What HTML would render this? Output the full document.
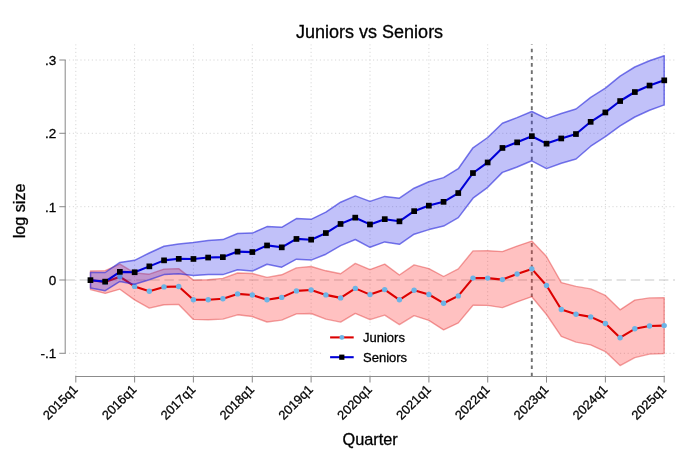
<!DOCTYPE html>
<html><head><meta charset="utf-8"><title>Juniors vs Seniors</title>
<style>
html,body{margin:0;padding:0;background:#fff;}
body{width:700px;height:453px;overflow:hidden;font-family:"Liberation Sans",sans-serif;}
svg{display:block;}
text{font-family:"Liberation Sans",sans-serif;fill:#000;stroke:#000;stroke-width:0.3px;}
</style></head><body>
<svg width="700" height="453" viewBox="0 0 700 453">
<rect width="700" height="453" fill="#fff"/>

<g stroke="#d8d8d8" stroke-width="1" stroke-dasharray="1.2 2.6" fill="none">
<line x1="75.8" y1="376" x2="75.8" y2="44.4"/>
<line x1="134.6" y1="376" x2="134.6" y2="44.4"/>
<line x1="193.4" y1="376" x2="193.4" y2="44.4"/>
<line x1="252.3" y1="376" x2="252.3" y2="44.4"/>
<line x1="311.1" y1="376" x2="311.1" y2="44.4"/>
<line x1="370.0" y1="376" x2="370.0" y2="44.4"/>
<line x1="428.9" y1="376" x2="428.9" y2="44.4"/>
<line x1="487.7" y1="376" x2="487.7" y2="44.4"/>
<line x1="546.5" y1="376" x2="546.5" y2="44.4"/>
<line x1="605.4" y1="376" x2="605.4" y2="44.4"/>
<line x1="664.2" y1="376" x2="664.2" y2="44.4"/>
<line x1="69" y1="353.3" x2="675" y2="353.3"/>
<line x1="69" y1="206.7" x2="675" y2="206.7"/>
<line x1="69" y1="133.3" x2="675" y2="133.3"/>
<line x1="69" y1="60.0" x2="675" y2="60.0"/>
</g>
<line x1="65.5" y1="280.0" x2="675" y2="280.0" stroke="#b4b4b4" stroke-width="0.75" stroke-dasharray="9.4 4.73"/>
<line x1="531.8" y1="376.3" x2="531.8" y2="44.4" stroke="#707070" stroke-width="1.9" stroke-dasharray="3.6 3.6"/>
<polygon points="90.5,271.0 105.2,270.6 119.9,264.2 134.6,272.9 149.3,274.2 164.0,269.1 178.7,268.6 193.4,280.1 208.2,279.7 222.9,278.4 237.6,273.0 252.3,273.5 267.0,277.4 281.7,274.8 296.4,267.9 311.1,266.5 325.9,270.8 340.6,273.8 355.3,263.4 370.0,269.6 384.7,264.1 399.4,275.0 414.1,264.9 428.9,268.6 443.6,276.5 458.3,268.9 473.0,250.9 487.7,250.8 502.4,251.6 517.1,246.1 531.8,241.1 546.5,256.5 561.3,282.6 576.0,286.4 590.7,288.9 605.4,295.4 620.1,309.8 634.8,300.1 649.5,297.9 664.2,297.7 664.2,353.5 649.5,354.1 634.8,357.6 620.1,365.6 605.4,351.6 590.7,344.9 576.0,342.1 561.3,336.4 546.5,314.5 531.8,296.7 517.1,301.9 502.4,307.6 487.7,305.4 473.0,305.2 458.3,322.9 443.6,329.9 428.9,320.4 414.1,315.6 399.4,324.6 384.7,315.1 370.0,319.6 355.3,313.4 340.6,322.1 325.9,319.1 311.1,313.5 296.4,313.9 281.7,320.1 267.0,322.0 252.3,316.5 237.6,314.8 222.9,319.1 208.2,319.7 193.4,319.4 178.7,304.4 164.0,304.8 149.3,308.1 134.6,299.9 119.9,289.2 105.2,293.4 90.5,289.6" fill="rgba(255,40,40,0.29)" stroke="rgba(225,50,50,0.45)" stroke-width="1.4" stroke-linejoin="round"/>
<polyline points="90.5,280.3 105.2,282.0 119.9,276.7 134.6,286.4 149.3,291.2 164.0,286.9 178.7,286.5 193.4,299.8 208.2,299.7 222.9,298.7 237.6,293.9 252.3,295.0 267.0,299.7 281.7,297.4 296.4,290.9 311.1,290.0 325.9,294.9 340.6,297.9 355.3,288.4 370.0,294.6 384.7,289.6 399.4,299.8 414.1,290.3 428.9,294.5 443.6,303.2 458.3,295.9 473.0,278.1 487.7,278.1 502.4,279.6 517.1,274.0 531.8,268.9 546.5,285.5 561.3,309.5 576.0,314.2 590.7,316.9 605.4,323.5 620.1,337.7 634.8,328.8 649.5,326.0 664.2,325.6" fill="none" stroke="#dc0000" stroke-width="2.1" stroke-linejoin="round"/>
<circle cx="90.5" cy="280.3" r="2.7" fill="#6cb4e6"/>
<circle cx="105.2" cy="282.0" r="2.7" fill="#6cb4e6"/>
<circle cx="119.9" cy="276.7" r="2.7" fill="#6cb4e6"/>
<circle cx="134.6" cy="286.4" r="2.7" fill="#6cb4e6"/>
<circle cx="149.3" cy="291.2" r="2.7" fill="#6cb4e6"/>
<circle cx="164.0" cy="286.9" r="2.7" fill="#6cb4e6"/>
<circle cx="178.7" cy="286.5" r="2.7" fill="#6cb4e6"/>
<circle cx="193.4" cy="299.8" r="2.7" fill="#6cb4e6"/>
<circle cx="208.2" cy="299.7" r="2.7" fill="#6cb4e6"/>
<circle cx="222.9" cy="298.7" r="2.7" fill="#6cb4e6"/>
<circle cx="237.6" cy="293.9" r="2.7" fill="#6cb4e6"/>
<circle cx="252.3" cy="295.0" r="2.7" fill="#6cb4e6"/>
<circle cx="267.0" cy="299.7" r="2.7" fill="#6cb4e6"/>
<circle cx="281.7" cy="297.4" r="2.7" fill="#6cb4e6"/>
<circle cx="296.4" cy="290.9" r="2.7" fill="#6cb4e6"/>
<circle cx="311.1" cy="290.0" r="2.7" fill="#6cb4e6"/>
<circle cx="325.9" cy="294.9" r="2.7" fill="#6cb4e6"/>
<circle cx="340.6" cy="297.9" r="2.7" fill="#6cb4e6"/>
<circle cx="355.3" cy="288.4" r="2.7" fill="#6cb4e6"/>
<circle cx="370.0" cy="294.6" r="2.7" fill="#6cb4e6"/>
<circle cx="384.7" cy="289.6" r="2.7" fill="#6cb4e6"/>
<circle cx="399.4" cy="299.8" r="2.7" fill="#6cb4e6"/>
<circle cx="414.1" cy="290.3" r="2.7" fill="#6cb4e6"/>
<circle cx="428.9" cy="294.5" r="2.7" fill="#6cb4e6"/>
<circle cx="443.6" cy="303.2" r="2.7" fill="#6cb4e6"/>
<circle cx="458.3" cy="295.9" r="2.7" fill="#6cb4e6"/>
<circle cx="473.0" cy="278.1" r="2.7" fill="#6cb4e6"/>
<circle cx="487.7" cy="278.1" r="2.7" fill="#6cb4e6"/>
<circle cx="502.4" cy="279.6" r="2.7" fill="#6cb4e6"/>
<circle cx="517.1" cy="274.0" r="2.7" fill="#6cb4e6"/>
<circle cx="531.8" cy="268.9" r="2.7" fill="#6cb4e6"/>
<circle cx="546.5" cy="285.5" r="2.7" fill="#6cb4e6"/>
<circle cx="561.3" cy="309.5" r="2.7" fill="#6cb4e6"/>
<circle cx="576.0" cy="314.2" r="2.7" fill="#6cb4e6"/>
<circle cx="590.7" cy="316.9" r="2.7" fill="#6cb4e6"/>
<circle cx="605.4" cy="323.5" r="2.7" fill="#6cb4e6"/>
<circle cx="620.1" cy="337.7" r="2.7" fill="#6cb4e6"/>
<circle cx="634.8" cy="328.8" r="2.7" fill="#6cb4e6"/>
<circle cx="649.5" cy="326.0" r="2.7" fill="#6cb4e6"/>
<circle cx="664.2" cy="325.6" r="2.7" fill="#6cb4e6"/>
<polygon points="90.5,272.4 105.2,272.5 119.9,262.4 134.6,260.3 149.3,253.0 164.0,246.2 178.7,243.9 193.4,242.4 208.2,240.5 222.9,239.6 237.6,233.5 252.3,233.1 267.0,226.6 281.7,227.3 296.4,218.6 311.1,219.3 325.9,212.1 340.6,202.2 355.3,195.9 370.0,201.4 384.7,196.4 399.4,198.2 414.1,188.2 428.9,181.7 443.6,177.6 458.3,168.7 473.0,147.8 487.7,137.5 502.4,123.3 517.1,117.6 531.8,111.5 546.5,118.6 561.3,113.5 576.0,109.0 590.7,97.3 605.4,88.2 620.1,76.1 634.8,67.0 649.5,60.8 664.2,55.7 664.2,104.9 649.5,110.2 634.8,117.0 620.1,125.9 605.4,136.6 590.7,146.2 576.0,159.0 561.3,163.2 546.5,168.6 531.8,160.8 517.1,167.0 502.4,172.4 487.7,187.3 473.0,198.2 458.3,217.6 443.6,226.1 428.9,229.6 414.1,234.2 399.4,244.3 384.7,241.9 370.0,247.3 355.3,239.5 340.6,245.6 325.9,254.2 311.1,260.1 296.4,259.2 281.7,267.2 267.0,264.2 252.3,271.1 237.6,269.7 222.9,274.6 208.2,274.5 193.4,275.6 178.7,273.7 164.0,274.6 149.3,279.8 134.6,284.3 119.9,281.4 105.2,290.7 90.5,287.9" fill="rgba(45,45,235,0.295)" stroke="rgba(40,40,220,0.62)" stroke-width="1.5" stroke-linejoin="round"/>
<polyline points="90.5,280.2 105.2,281.6 119.9,271.9 134.6,272.3 149.3,266.4 164.0,260.4 178.7,258.8 193.4,259.0 208.2,257.5 222.9,257.1 237.6,251.6 252.3,252.1 267.0,245.4 281.7,247.3 296.4,238.9 311.1,239.7 325.9,233.1 340.6,223.9 355.3,217.7 370.0,224.4 384.7,219.2 399.4,221.3 414.1,211.2 428.9,205.6 443.6,201.8 458.3,193.1 473.0,173.0 487.7,162.4 502.4,147.9 517.1,142.3 531.8,136.2 546.5,143.6 561.3,138.4 576.0,134.0 590.7,121.8 605.4,112.4 620.1,101.0 634.8,92.0 649.5,85.5 664.2,80.3" fill="none" stroke="#0000d8" stroke-width="2.1" stroke-linejoin="round"/>
<rect x="87.6" y="277.3" width="5.7" height="5.7" fill="#000"/>
<rect x="102.3" y="278.8" width="5.7" height="5.7" fill="#000"/>
<rect x="117.0" y="269.0" width="5.7" height="5.7" fill="#000"/>
<rect x="131.8" y="269.4" width="5.7" height="5.7" fill="#000"/>
<rect x="146.5" y="263.5" width="5.7" height="5.7" fill="#000"/>
<rect x="161.2" y="257.5" width="5.7" height="5.7" fill="#000"/>
<rect x="175.9" y="256.0" width="5.7" height="5.7" fill="#000"/>
<rect x="190.6" y="256.1" width="5.7" height="5.7" fill="#000"/>
<rect x="205.3" y="254.7" width="5.7" height="5.7" fill="#000"/>
<rect x="220.0" y="254.3" width="5.7" height="5.7" fill="#000"/>
<rect x="234.7" y="248.8" width="5.7" height="5.7" fill="#000"/>
<rect x="249.5" y="249.2" width="5.7" height="5.7" fill="#000"/>
<rect x="264.2" y="242.6" width="5.7" height="5.7" fill="#000"/>
<rect x="278.9" y="244.5" width="5.7" height="5.7" fill="#000"/>
<rect x="293.6" y="236.1" width="5.7" height="5.7" fill="#000"/>
<rect x="308.3" y="236.8" width="5.7" height="5.7" fill="#000"/>
<rect x="323.0" y="230.2" width="5.7" height="5.7" fill="#000"/>
<rect x="337.7" y="221.1" width="5.7" height="5.7" fill="#000"/>
<rect x="352.4" y="214.8" width="5.7" height="5.7" fill="#000"/>
<rect x="367.1" y="221.6" width="5.7" height="5.7" fill="#000"/>
<rect x="381.9" y="216.3" width="5.7" height="5.7" fill="#000"/>
<rect x="396.6" y="218.5" width="5.7" height="5.7" fill="#000"/>
<rect x="411.3" y="208.3" width="5.7" height="5.7" fill="#000"/>
<rect x="426.0" y="202.8" width="5.7" height="5.7" fill="#000"/>
<rect x="440.7" y="199.0" width="5.7" height="5.7" fill="#000"/>
<rect x="455.4" y="190.2" width="5.7" height="5.7" fill="#000"/>
<rect x="470.1" y="170.2" width="5.7" height="5.7" fill="#000"/>
<rect x="484.8" y="159.6" width="5.7" height="5.7" fill="#000"/>
<rect x="499.6" y="145.1" width="5.7" height="5.7" fill="#000"/>
<rect x="514.3" y="139.5" width="5.7" height="5.7" fill="#000"/>
<rect x="529.0" y="133.3" width="5.7" height="5.7" fill="#000"/>
<rect x="543.7" y="140.8" width="5.7" height="5.7" fill="#000"/>
<rect x="558.4" y="135.6" width="5.7" height="5.7" fill="#000"/>
<rect x="573.1" y="131.2" width="5.7" height="5.7" fill="#000"/>
<rect x="587.8" y="119.0" width="5.7" height="5.7" fill="#000"/>
<rect x="602.5" y="109.6" width="5.7" height="5.7" fill="#000"/>
<rect x="617.3" y="98.2" width="5.7" height="5.7" fill="#000"/>
<rect x="632.0" y="89.2" width="5.7" height="5.7" fill="#000"/>
<rect x="646.7" y="82.7" width="5.7" height="5.7" fill="#000"/>
<rect x="661.4" y="77.5" width="5.7" height="5.7" fill="#000"/>
<g stroke="#8c8c8c" stroke-width="1.05" fill="none">
<line x1="65.2" y1="60.0" x2="65.2" y2="353.3"/>
<line x1="59.3" y1="353.3" x2="65.8" y2="353.3"/>
<line x1="59.3" y1="280.0" x2="65.8" y2="280.0"/>
<line x1="59.3" y1="206.7" x2="65.8" y2="206.7"/>
<line x1="59.3" y1="133.3" x2="65.8" y2="133.3"/>
<line x1="59.3" y1="60.0" x2="65.8" y2="60.0"/>
<line x1="75.2" y1="376.4" x2="664.9" y2="376.4"/>
<line x1="75.8" y1="376.4" x2="75.8" y2="382.6"/>
<line x1="134.6" y1="376.4" x2="134.6" y2="382.6"/>
<line x1="193.4" y1="376.4" x2="193.4" y2="382.6"/>
<line x1="252.3" y1="376.4" x2="252.3" y2="382.6"/>
<line x1="311.1" y1="376.4" x2="311.1" y2="382.6"/>
<line x1="370.0" y1="376.4" x2="370.0" y2="382.6"/>
<line x1="428.9" y1="376.4" x2="428.9" y2="382.6"/>
<line x1="487.7" y1="376.4" x2="487.7" y2="382.6"/>
<line x1="546.5" y1="376.4" x2="546.5" y2="382.6"/>
<line x1="605.4" y1="376.4" x2="605.4" y2="382.6"/>
<line x1="664.2" y1="376.4" x2="664.2" y2="382.6"/>
</g>
<text x="56.2" y="64.9" font-size="13.5" text-anchor="end">.3</text>
<text x="56.2" y="138.2" font-size="13.5" text-anchor="end">.2</text>
<text x="56.2" y="211.6" font-size="13.5" text-anchor="end">.1</text>
<text x="56.2" y="284.9" font-size="13.5" text-anchor="end">0</text>
<text x="56.2" y="358.2" font-size="13.5" text-anchor="end">-.1</text>
<text transform="translate(78.5,390.2) rotate(-45)" font-size="12.8" text-anchor="end">2015q1</text>
<text transform="translate(137.4,390.2) rotate(-45)" font-size="12.8" text-anchor="end">2016q1</text>
<text transform="translate(196.2,390.2) rotate(-45)" font-size="12.8" text-anchor="end">2017q1</text>
<text transform="translate(255.1,390.2) rotate(-45)" font-size="12.8" text-anchor="end">2018q1</text>
<text transform="translate(313.9,390.2) rotate(-45)" font-size="12.8" text-anchor="end">2019q1</text>
<text transform="translate(372.8,390.2) rotate(-45)" font-size="12.8" text-anchor="end">2020q1</text>
<text transform="translate(431.7,390.2) rotate(-45)" font-size="12.8" text-anchor="end">2021q1</text>
<text transform="translate(490.5,390.2) rotate(-45)" font-size="12.8" text-anchor="end">2022q1</text>
<text transform="translate(549.3,390.2) rotate(-45)" font-size="12.8" text-anchor="end">2023q1</text>
<text transform="translate(608.2,390.2) rotate(-45)" font-size="12.8" text-anchor="end">2024q1</text>
<text transform="translate(667.0,390.2) rotate(-45)" font-size="12.8" text-anchor="end">2025q1</text>
<text x="369.6" y="37.8" font-size="18" text-anchor="middle">Juniors vs Seniors</text>
<text x="370.2" y="445" font-size="16.3" text-anchor="middle">Quarter</text>
<text transform="translate(25.2,210.9) rotate(-90)" font-size="16.2" text-anchor="middle">log size</text>
<rect x="323" y="326" width="93.5" height="45" fill="#fff"/>
<line x1="330.1" y1="337.4" x2="353.7" y2="337.4" stroke="#dc0000" stroke-width="2.1"/>
<circle cx="341.9" cy="337.4" r="2.4" fill="#6cb4e6"/>
<line x1="330.1" y1="357.2" x2="353.7" y2="357.2" stroke="#0000d8" stroke-width="2.1"/>
<rect x="339.2" y="354.6" width="5.2" height="5.2" fill="#000"/>
<text x="363" y="342" font-size="13">Juniors</text>
<text x="363" y="361.8" font-size="13">Seniors</text>
</svg></body></html>
